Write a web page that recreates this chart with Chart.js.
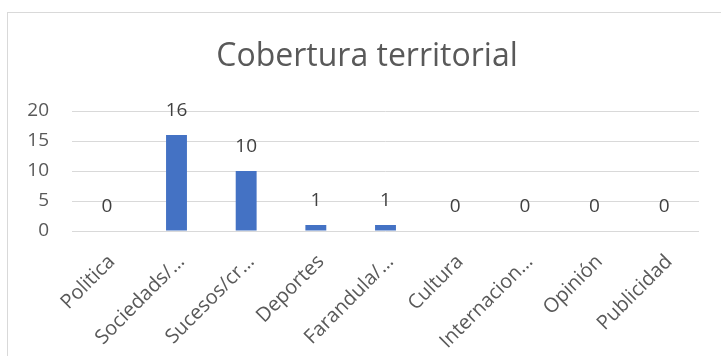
<!DOCTYPE html>
<html>
<head>
<meta charset="utf-8">
<script src="https://cdn.jsdelivr.net/npm/chart.js@4/dist/chart.umd.min.js"></script>
<style>
  html, body { margin: 0; padding: 0; background: #ffffff; }
  #wrap { width: 721px; height: 356px; position: relative; }
</style>
</head>
<body>
<div id="wrap"><canvas id="chart" width="721" height="356"></canvas></div>
<script>
// Categories, counts and axis ticks
const chartTitle = 'Cobertura territorial';
const categories = ['Politica', 'Sociedads/…', 'Sucesos/cr…', 'Deportes', 'Farandula/…', 'Cultura', 'Internacion…', 'Opinión', 'Publicidad'];
const counts = [0, 16, 10, 1, 1, 0, 0, 0, 0];
const yTicks = [0, 5, 10, 15, 20];

const textColor = '#595959';
const barColor = '#4472C4';
const gridColor = '#d9d9d9';

// Outer frame and title
const framePlugin = {
  id: 'frame',
  beforeDraw(chart) {
    const ctx = chart.ctx;
    ctx.save();
    ctx.fillStyle = '#ffffff';
    ctx.fillRect(0, 0, chart.width, chart.height);
    ctx.strokeStyle = '#d9d9d9';
    ctx.lineWidth = 1;
    ctx.strokeRect(7.5, 12.5, chart.width + 20, chart.height + 20);
    ctx.fillStyle = textColor;
    ctx.font = '400 32px "Open Sans"';
    ctx.textAlign = 'center';
    ctx.textBaseline = 'alphabetic';
    ctx.fillText(chartTitle, 367, 66);
    ctx.restore();
  }
};

// Value labels above each bar
const valueLabels = {
  id: 'valueLabels',
  afterDatasetsDraw(chart) {
    const ctx = chart.ctx;
    const meta = chart.getDatasetMeta(0);
    ctx.save();
    ctx.fillStyle = '#404040';
    ctx.font = '400 19px "Open Sans"';
    ctx.textAlign = 'center';
    ctx.textBaseline = 'middle';
    meta.data.forEach((bar, i) => {
      ctx.fillText(String(chart.data.datasets[0].data[i]), bar.x, bar.y - 24);
    });
    ctx.restore();
  }
};

new Chart(document.getElementById('chart'), {
  type: 'bar',
  data: {
    labels: categories,
    datasets: [{
      data: counts,
      backgroundColor: barColor,
      borderWidth: 0,
      barPercentage: 0.3,
      categoryPercentage: 1.0
    }]
  },
  options: {
    responsive: false,
    animation: false,
    events: [],
    layout: { padding: { left: 7, right: 22, top: 111, bottom: 0 } },
    plugins: {
      legend: { display: false },
      title: { display: false },
      tooltip: { enabled: false }
    },
    scales: {
      x: {
        grid: { display: false, drawTicks: false },
        border: { display: false },
        ticks: {
          color: textColor,
          font: { family: '"Open Sans"', size: 20 },
          maxRotation: 45,
          minRotation: 45,
          autoSkip: false,
          labelOffset: 5,
          padding: 19
        },
        afterFit(scale) { scale.height = 125; }
      },
      y: {
        min: 0,
        max: 20,
        afterBuildTicks(scale) { scale.ticks = yTicks.map(v => ({ value: v })); },
        grid: { color: gridColor, lineWidth: 1, drawTicks: false },
        border: { display: false },
        ticks: {
          color: textColor,
          font: { family: '"Open Sans"', size: 19 },
          padding: 23
        },
        afterFit(scale) { scale.width = 65; }
      }
    }
  },
  plugins: [framePlugin, valueLabels]
});
</script>
</body>
</html>
